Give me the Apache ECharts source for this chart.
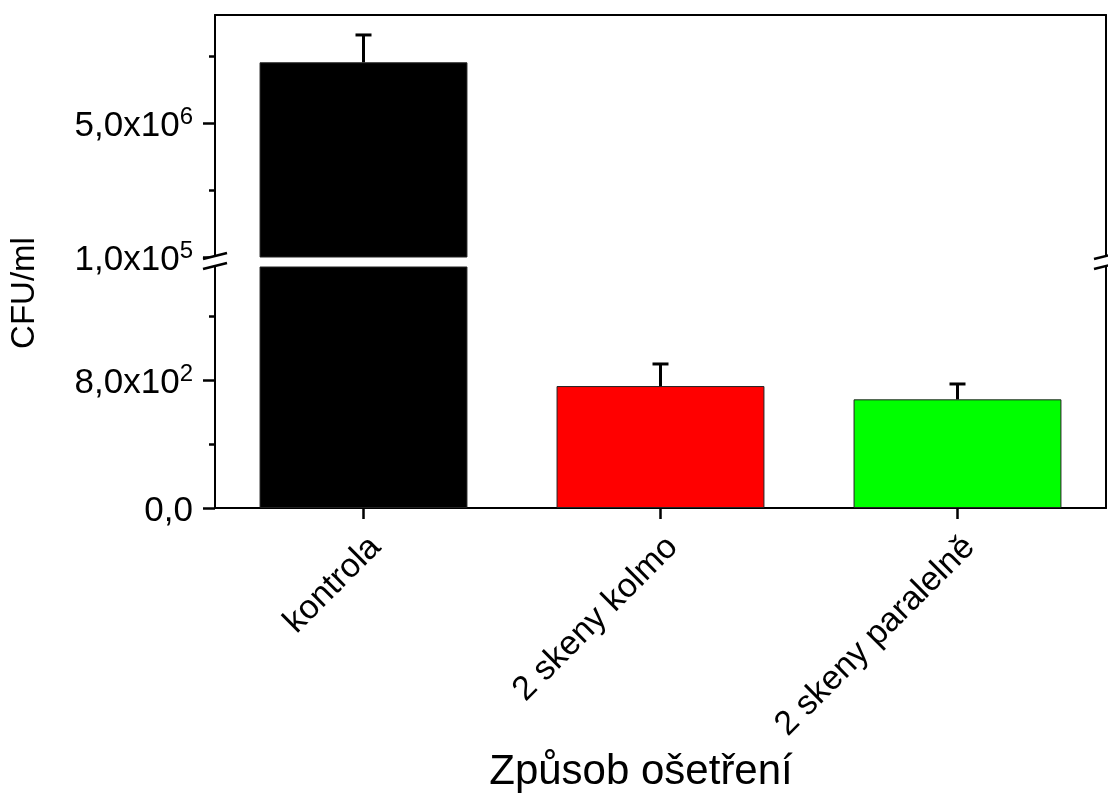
<!DOCTYPE html>
<html><head><meta charset="utf-8">
<script src="https://cdn.jsdelivr.net/npm/echarts@6/dist/echarts.min.js"></script>
<style>html,body{margin:0;padding:0;background:#fff}#c{width:1108px;height:808px}</style>
</head><body><div id="c"></div>
<script>
// ---- data ----
const categories = ['kontrola', '2 skeny kolmo', '2 skeny paralelně'];
const cfuMeans = [7.22e6, 762, 679];
const cfuErrors = [1.0e6, 138, 96];
const barColors = ['#000000', '#ff0000', '#00ff00'];
const upperRange = [1e5, 8.95e6];
const lowerRange = [0, 1506];
const upperLabelTicks = [1e5, 5e6];
const upperMinorTicks = [2.55e6, 7.45e6];
const lowerLabelTicks = [0, 800];
const lowerMinorTicks = [400, 1200];
const yAxisTitle = 'CFU/ml';
const xAxisTitle = 'Způsob ošetření';

// ---- layout ----
const FONT = 'Liberation Sans, Arial, sans-serif';
const GL = 215, GR = 2;
const UP_TOP = 15, UP_H = 242, LO_TOP = 267, LO_H = 241;

function fmt(v) {
  if (v === 0) return '{m|0,0}';
  const e = Math.floor(Math.log10(v) + 1e-9);
  const m = (v / Math.pow(10, e)).toFixed(1).replace('.', ',');
  return '{m|' + m + 'x10}{s|' + e + '}';
}
const rich = {
  m: { fontSize: 35, fontFamily: FONT, color: '#000', lineHeight: 42 },
  s: { fontSize: 24, fontFamily: FONT, color: '#000', lineHeight: 32, verticalAlign: 'top' }
};
const lineStyle = { color: '#000', width: 2 };

function majorAxis(grid, range, labels) {
  return {
    type: 'value', gridIndex: grid, position: 'left', min: range[0], max: range[1],
    axisLine: { show: true, onZero: false, lineStyle },
    axisTick: { show: true, inside: false, length: 12, lineStyle: { color: '#000', width: 2.5 }, customValues: labels },
    axisLabel: { show: true, customValues: labels, formatter: fmt, rich, margin: 22, padding: [7, 0, 0, 0] },
    splitLine: { show: false }, minorTick: { show: false }
  };
}
function minorAxis(grid, range, ticks) {
  return {
    type: 'value', gridIndex: grid, position: 'left', min: range[0], max: range[1],
    axisLine: { show: false },
    axisTick: { show: true, length: 6, lineStyle: { color: '#000', width: 2.5 }, customValues: ticks },
    axisLabel: { show: false }, splitLine: { show: false }
  };
}
function rightAxis(grid, range) {
  return {
    type: 'value', gridIndex: grid, position: 'right', min: range[0], max: range[1],
    axisLine: { show: true, onZero: false, lineStyle },
    axisTick: { show: false }, axisLabel: { show: false }, splitLine: { show: false }
  };
}

const barData = cfuMeans.map((v, i) => ({ value: v, itemStyle: { color: barColors[i] } }));
const errData = categories.map((c, i) => [i, cfuMeans[i], cfuErrors[i]]);

function errRender(params, api) {
  const x = api.value(0), mean = api.value(1), err = api.value(2);
  const b = api.coord([x, mean]);
  const t = api.coord([x, mean + err]);
  const cs = params.coordSys;
  if (t[1] > cs.y + cs.height || b[1] < cs.y) return null;
  const half = 8;
  return {
    type: 'group', children: [
      { type: 'line', shape: { x1: b[0], y1: b[1], x2: t[0], y2: t[1] }, style: { stroke: '#000', lineWidth: 3 } },
      { type: 'line', shape: { x1: t[0] - half, y1: t[1], x2: t[0] + half, y2: t[1] }, style: { stroke: '#000', lineWidth: 3 } }
    ]
  };
}

const chart = echarts.init(document.getElementById('c'), null, { renderer: 'canvas' });
chart.setOption({
  animation: false,
  backgroundColor: '#ffffff',
  grid: [
    { left: GL, right: GR, top: UP_TOP, height: UP_H, containLabel: false },
    { left: GL, right: GR, top: LO_TOP, height: LO_H, containLabel: false }
  ],
  xAxis: [
    { type: 'category', gridIndex: 0, position: 'top', data: categories,
      axisLine: { show: true, onZero: false, lineStyle }, axisTick: { show: false }, axisLabel: { show: false } },
    { type: 'category', gridIndex: 1, position: 'bottom', data: categories,
      axisLine: { show: true, onZero: false, lineStyle },
      axisTick: { show: true, alignWithLabel: true, length: 11, lineStyle: { color: '#000', width: 2.5 } },
      axisLabel: { rotate: 45, fontSize: 34, fontFamily: FONT, color: '#000', margin: 22, interval: 0,
        align: 'right', verticalAlign: 'top' } }
  ],
  yAxis: [
    majorAxis(0, upperRange, upperLabelTicks),
    minorAxis(0, upperRange, upperMinorTicks),
    rightAxis(0, upperRange),
    majorAxis(1, lowerRange, lowerLabelTicks),
    minorAxis(1, lowerRange, lowerMinorTicks),
    rightAxis(1, lowerRange)
  ],
  series: [
    { type: 'bar', xAxisIndex: 0, yAxisIndex: 0, data: barData, barWidth: '70%', clip: true,
      itemStyle: { borderColor: '#222', borderWidth: 1 } },
    { type: 'bar', xAxisIndex: 1, yAxisIndex: 3, data: barData, barWidth: '70%', clip: true,
      itemStyle: { borderColor: '#222', borderWidth: 1 } },
    { type: 'custom', xAxisIndex: 0, yAxisIndex: 0, data: errData, renderItem: errRender, clip: true, z: 5,
      encode: { x: 0, y: 1 } },
    { type: 'custom', xAxisIndex: 1, yAxisIndex: 3, data: errData, renderItem: errRender, clip: true, z: 5,
      encode: { x: 0, y: 1 } }
  ]
});

// axis titles and break marks
const yBreakTop = chart.convertToPixel({ yAxisIndex: 0 }, upperRange[0]);
const yBreakBot = chart.convertToPixel({ yAxisIndex: 3 }, lowerRange[1]);
const mid = (yBreakTop + yBreakBot) / 2;
const xL = GL, xR = 1108 - GR;
function breakMark(xc) {
  const a = 12, up = 6;
  return [
    { type: 'polygon', shape: { points: [[xc - a, mid - 3], [xc + a, mid - 3 - up], [xc + a, mid + 1], [xc - a, mid + 7]] },
      style: { fill: '#fff' }, z: 100 },
    { type: 'line', shape: { x1: xc - a, y1: mid - 3, x2: xc + a, y2: mid - 3 - up }, style: { stroke: '#000', lineWidth: 2.5 }, z: 101 },
    { type: 'line', shape: { x1: xc - a, y1: mid + 7, x2: xc + a, y2: mid + 7 - up }, style: { stroke: '#000', lineWidth: 2.5 }, z: 101 }
  ];
}
chart.setOption({
  graphic: [
    ...breakMark(xL), ...breakMark(xR),
    { type: 'text', x: 25, y: 293, rotation: Math.PI / 2, z: 100,
      style: { text: yAxisTitle, font: '33px ' + FONT, fill: '#000', textAlign: 'center', textVerticalAlign: 'middle' } },
    { type: 'text', x: 641, y: 772, z: 100,
      style: { text: xAxisTitle, font: '42px ' + FONT, fill: '#000', textAlign: 'center', textVerticalAlign: 'middle' } }
  ]
});
</script>
</body></html>
